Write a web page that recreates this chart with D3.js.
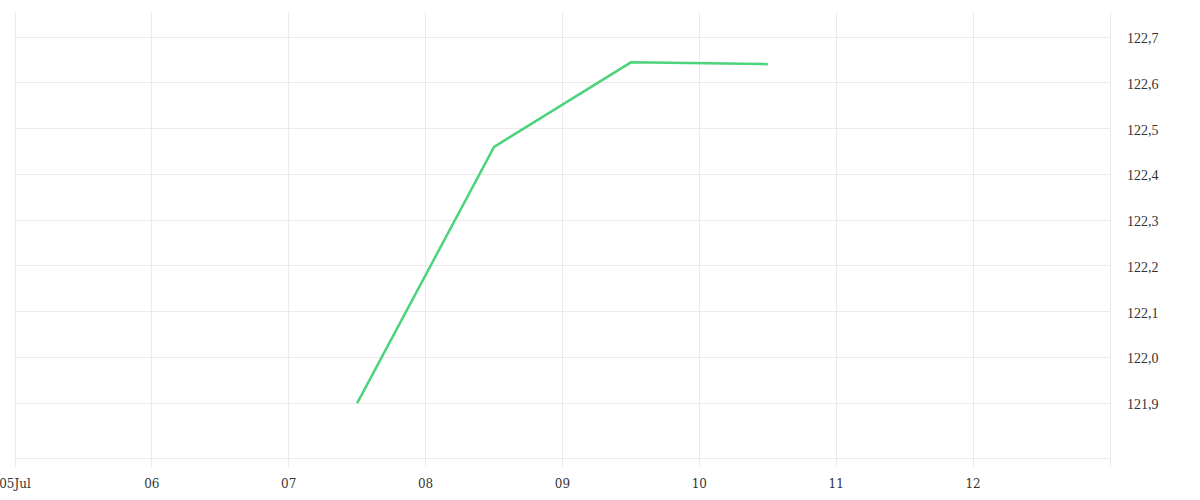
<!DOCTYPE html>
<html><head><meta charset="utf-8">
<script src="https://cdn.jsdelivr.net/npm/d3@7"></script>
<style>body{margin:0;background:#fff}</style>
</head><body>
<svg id="c" width="1200" height="500"></svg>
<script>
const dates = ["2024-07-07T12:00","2024-07-08T12:00","2024-07-09T12:00","2024-07-10T12:00"];
const values = [121.9, 122.46, 122.645, 122.641];
const yTicks = [121.9,122.0,122.1,122.2,122.3,122.4,122.5,122.6,122.7];
const xTickDays = ["2024-07-05","2024-07-06","2024-07-07","2024-07-08","2024-07-09","2024-07-10","2024-07-11","2024-07-12","2024-07-13"];
const xLabels = ["05Jul","06","07","08","09","10","11","12",""];

const parse = d3.timeParse("%Y-%m-%dT%H:%M");
const parseDay = d3.timeParse("%Y-%m-%d");
const data = dates.map((d,i)=>({t:parse(d), v:values[i]}));
const svg = d3.select("#c");
const L=15, R=1110, T=12, B=458;
const x = d3.scaleTime().domain([parseDay(xTickDays[0]), parseDay(xTickDays[8])]).range([L,R]);
const y = d3.scaleLinear().domain([121.78, 122.755]).range([B,T]);
const font = "DejaVu Serif";
const grid = "#ebebeb";

svg.append("g").selectAll("line").data(yTicks).join("line")
  .attr("x1",L).attr("x2",R).attr("y1",d=>y(d)).attr("y2",d=>y(d))
  .attr("stroke",grid).attr("stroke-width",1).attr("shape-rendering","crispEdges");
svg.append("line").attr("x1",L).attr("x2",R).attr("y1",B).attr("y2",B)
  .attr("stroke",grid).attr("shape-rendering","crispEdges");
svg.append("g").selectAll("line").data(xTickDays.map(parseDay)).join("line")
  .attr("x1",d=>x(d)).attr("x2",d=>x(d)).attr("y1",T).attr("y2",B+9)
  .attr("stroke",grid).attr("shape-rendering","crispEdges");

svg.append("g").selectAll("text").data(yTicks).join("text")
  .attr("x",R+17).attr("y",d=>y(d)+6)
  .attr("font-family","Liberation Serif").attr("font-size",14).attr("fill","#333")
  .text(d=>d3.format(".1f")(d).replace(".",","));
svg.append("g").selectAll("text").data(xTickDays.map(parseDay)).join("text")
  .attr("x",d=>x(d)).attr("y",488).attr("text-anchor","middle")
  .attr("font-family",font).attr("font-size",12).attr("fill","#333")
  .text((d,i)=>xLabels[i]);

svg.append("path").datum(data)
  .attr("d", d3.line().x(d=>x(d.t)).y(d=>y(d.v)))
  .attr("fill","none").attr("stroke","#4cd37b").attr("stroke-width",2.5);
</script>
</body></html>
